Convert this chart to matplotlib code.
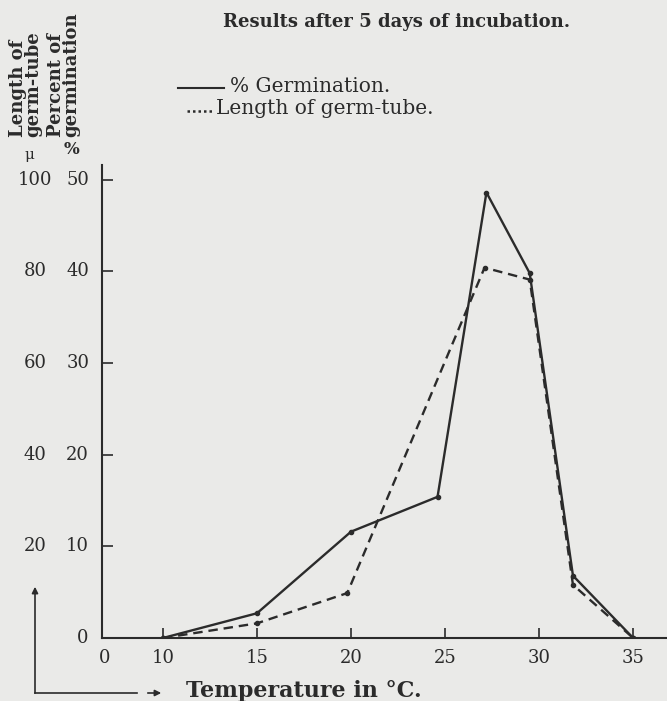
import numpy as np
import matplotlib.pyplot as plt
from matplotlib.lines import Line2D

# %% data
temp_germ = [10, 15, 20, 24.6, 27.2, 29.5, 31.8, 35]  # deg C
germination = [0, 2.7, 11.6, 15.4, 48.6, 39.8, 6.8, 0]  # percent

temp_tube = [10, 15, 19.8, 27.1, 29.5, 31.8, 35]
tube_length = [0, 3.2, 9.8, 80.8, 78.2, 11.6, 0]  # micron, 100 u = 50 %

x_ticks = [6.9, 10, 15, 20, 25, 30, 35]
x_labels = ['0', '10', '15', '20', '25', '30', '35']
pct_ticks = [10, 20, 30, 40, 50]
pct_labels = ['10', '20', '30', '40', '50']
mu_labels = ['20', '40', '60', '80', '100']

paper = '#eaeae8'
ink = '#2b2b2b'
plt.rcParams['font.family'] = ['DejaVu Serif']
fs_tick = 13

W, H = 667, 701
fig = plt.figure(figsize=(W / 100, H / 100), dpi=100, facecolor=paper)
ax = fig.add_axes([102 / W, 1 - 638 / H, 565 / W, 473 / H])
ax.set_facecolor(paper)

ax.plot(temp_germ, germination, color=ink, lw=1.7, marker='o', ms=3)
ax.plot(temp_tube, np.array(tube_length) / 2.0, color=ink, lw=1.7,
        ls=(0, (4, 2.5)), marker='o', ms=3)

ax.set_xlim(6.76, 36.8)
ax.set_ylim(0, 51.6)
for s in ['top', 'right']:
    ax.spines[s].set_visible(False)
for s in ['left', 'bottom']:
    ax.spines[s].set_color(ink)
    ax.spines[s].set_linewidth(1.5)

ax.set_xticks(x_ticks)
ax.set_xticklabels(x_labels, fontsize=fs_tick, color=ink)
ax.tick_params(axis='x', direction='in', length=7, width=1.2, color=ink, pad=8)
ax.xaxis.get_major_ticks()[0].tick1line.set_visible(False)

ax.set_yticks(pct_ticks)
ax.set_yticklabels([])
ax.tick_params(axis='y', direction='in', length=8, width=1.2, color=ink)

# two columns of y labels
ytr = ax.get_yaxis_transform()
for v, lp, lm in zip(pct_ticks, pct_labels, mu_labels):
    ax.text(-0.043, v, lp, transform=ytr, ha='center', va='center', fontsize=fs_tick, color=ink)
    ax.text(-0.118, v, lm, transform=ytr, ha='center', va='center', fontsize=fs_tick, color=ink)
ax.text(-0.034, 0, '0', transform=ytr, ha='center', va='center', fontsize=fs_tick, color=ink)

# rotated axis captions
fig.text(26 / W, 1 - 137 / H, 'Length of\ngerm-tube', rotation=90, ha='center', va='bottom',
         multialignment='left', linespacing=0.8, fontsize=13, fontweight='bold', color=ink)
fig.text(64 / W, 1 - 137 / H, 'Percent of\ngermination', rotation=90, ha='center', va='bottom',
         multialignment='left', linespacing=0.8, fontsize=13, fontweight='bold', color=ink)
fig.text(29 / W, 1 - 155 / H, '\u03bc', ha='center', va='center', fontsize=11, color=ink)
fig.text(72 / W, 1 - 150 / H, '%', ha='center', va='center', fontsize=12, fontweight='bold', color=ink)

# title and hand made legend
fig.text(223 / W, 1 - 22 / H, 'Results after 5 days of incubation.', ha='left', va='center',
         fontsize=13, fontweight='bold', color=ink)
fig.add_artist(Line2D([178 / W, 224 / W], [1 - 88 / H, 1 - 88 / H], color=ink, lw=1.5))
fig.text(230 / W, 1 - 87 / H, '% Germination.', ha='left', va='center', fontsize=14.5, color=ink)
fig.add_artist(Line2D([187 / W, 212 / W], [1 - 111 / H, 1 - 111 / H], color=ink, lw=1.8,
                      ls=(0, (1, 1.2))))
fig.text(216 / W, 1 - 108 / H, 'Length of germ-tube.', ha='left', va='center', fontsize=14.5, color=ink)

# arrows in the lower left corner
fig.add_artist(Line2D([35 / W, 35 / W], [1 - 693 / H, 1 - 592 / H], color=ink, lw=1.2))
ax.annotate('', xy=(35, H - 584), xytext=(35, H - 596), xycoords='figure pixels',
            arrowprops=dict(arrowstyle='-|>', color=ink, lw=1.2, mutation_scale=9))
fig.add_artist(Line2D([35 / W, 137 / W], [1 - 693 / H, 1 - 693 / H], color=ink, lw=1.2))
ax.annotate('', xy=(164, H - 693), xytext=(145, H - 693), xycoords='figure pixels',
            arrowprops=dict(arrowstyle='-|>', color=ink, lw=1.2, mutation_scale=9))
fig.text(186 / W, 1 - 691 / H, 'Temperature in \u00b0C.', ha='left', va='center',
         fontsize=16, fontweight='bold', color=ink)

plt.savefig('out.png', dpi=100, facecolor=paper)
